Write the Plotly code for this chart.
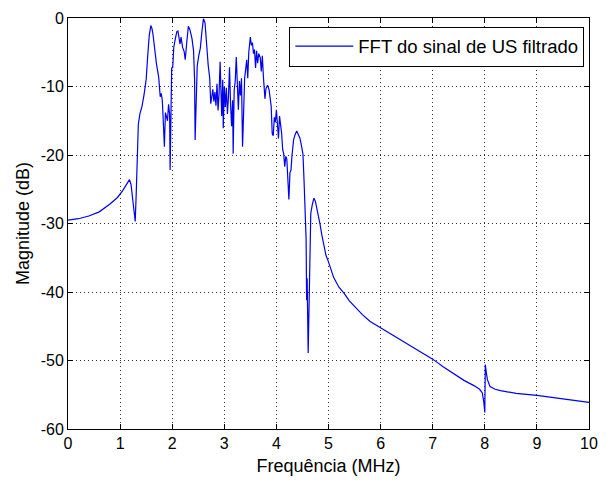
import plotly.graph_objects as go

# Magnitude spectrum of the filtered ultrasound signal (frequency in MHz, magnitude in dB)
freq_mhz = [
    0.00, 0.20, 0.40, 0.60, 0.80, 0.95, 1.05, 1.12, 1.18, 1.21, 1.24, 1.27, 1.29, 1.31,
    1.33, 1.35, 1.38, 1.42, 1.46, 1.50, 1.53, 1.56, 1.59, 1.61, 1.63, 1.66, 1.70, 1.74,
    1.77, 1.79, 1.81, 1.83, 1.85, 1.87, 1.89, 1.91, 1.93, 1.95, 1.96, 1.98, 1.99, 2.01,
    2.03, 2.06, 2.09, 2.11, 2.13, 2.15, 2.17, 2.20, 2.23, 2.25, 2.28, 2.31, 2.34, 2.38,
    2.41, 2.43, 2.44, 2.46, 2.48, 2.51, 2.54, 2.57, 2.60, 2.63, 2.66, 2.69, 2.72, 2.74,
    2.76, 2.78, 2.80, 2.82, 2.84, 2.86, 2.88, 2.90, 2.92, 2.94, 2.95, 2.97, 2.98, 3.00,
    3.02, 3.04, 3.06, 3.08, 3.10, 3.12, 3.14, 3.16, 3.17, 3.19, 3.21, 3.23, 3.25, 3.27,
    3.29, 3.31, 3.33, 3.35, 3.37, 3.39, 3.41, 3.43, 3.45, 3.47, 3.50, 3.52, 3.54, 3.56,
    3.58, 3.60, 3.62, 3.64, 3.66, 3.69, 3.71, 3.73, 3.75, 3.78, 3.80, 3.83, 3.86, 3.88,
    3.90, 3.92, 3.94, 3.96, 3.98, 4.00, 4.02, 4.04, 4.06, 4.08, 4.10, 4.12, 4.14, 4.16,
    4.18, 4.20, 4.21, 4.23, 4.24, 4.26, 4.28, 4.30, 4.33, 4.36, 4.39, 4.42, 4.45, 4.48,
    4.51, 4.53, 4.55, 4.57, 4.58, 4.59, 4.61, 4.63, 4.645, 4.66, 4.69, 4.72, 4.75, 4.78,
    4.81, 4.84, 4.87, 4.90, 4.95, 5.00, 5.05, 5.10, 5.20, 5.30, 5.40, 5.54, 5.65, 5.80,
    6.00, 6.20, 6.40, 6.60, 6.80, 7.00, 7.20, 7.40, 7.60, 7.80, 7.90, 7.95, 7.98, 8.00,
    8.01, 8.03, 8.05, 8.10, 8.20, 8.30, 8.60, 9.00, 9.40, 9.80, 10.00,
]
magnitude_db = [
    -29.5, -29.3, -28.9, -28.3, -27.2, -26.2, -25.2, -24.4, -23.6, -24.3, -26.5, -28.8, -29.7, -25.5,
    -20.0, -15.5, -14.0, -12.9, -11.2, -9.0, -5.5, -2.5, -1.1, -1.5, -2.3, -4.6, -6.8, -8.6,
    -11.5, -11.0, -12.0, -15.3, -18.8, -13.8, -14.5, -15.0, -12.6, -14.0, -22.2, -9.5, -7.3, -7.2,
    -4.3, -3.0, -2.0, -1.9, -3.0, -3.8, -2.8, -4.3, -4.9, -6.1, -3.5, -1.2, -1.7, -3.0,
    -4.8, -9.0, -17.8, -9.5, -7.0, -5.5, -4.4, -2.0, -0.1, -0.7, -4.5, -6.8, -8.8, -12.5,
    -11.5, -10.4, -12.2, -10.8, -12.8, -9.6, -13.5, -11.0, -6.4, -12.0, -14.3, -9.0, -16.1, -10.0,
    -13.0, -10.2, -14.0, -11.5, -7.2, -12.5, -15.8, -12.0, -19.8, -10.5, -9.2, -5.7, -9.5, -13.4,
    -9.2, -11.3, -8.8, -18.8, -14.0, -8.8, -7.5, -6.1, -8.8, -5.0, -2.8, -4.0, -3.6, -5.2,
    -4.6, -7.3, -4.8, -6.6, -5.2, -5.8, -7.8, -5.5, -8.5, -11.8, -10.3, -9.8, -10.5, -11.5,
    -12.9, -16.9, -17.2, -14.5, -15.2, -13.4, -15.6, -17.6, -14.3, -15.5, -16.8, -19.2, -19.8, -21.7,
    -20.2, -20.6, -22.6, -23.8, -26.5, -22.6, -22.2, -20.0, -17.8, -17.0, -16.5, -17.0, -17.5, -18.6,
    -19.9, -23.6, -29.5, -32.2, -41.2, -38.0, -48.9, -40.2, -30.0, -28.5, -27.2, -26.3, -26.8, -27.8,
    -29.0, -30.2, -31.6, -32.9, -34.6, -35.6, -36.9, -37.9, -39.3, -40.2, -41.3, -42.5, -43.3, -44.3,
    -45.2, -46.2, -47.1, -48.0, -48.9, -49.8, -50.9, -51.9, -52.9, -53.7, -54.2, -54.7, -56.0, -57.6,
    -50.6, -51.8, -52.8, -53.8, -54.2, -54.4, -54.8, -55.1, -55.5, -55.9, -56.1,
]

x_ticks = list(range(0, 11))
y_ticks = [-60, -50, -40, -30, -20, -10, 0]

FONT = "Liberation Sans, Arial, sans-serif"

fig = go.Figure()
fig.add_trace(go.Scatter(
    x=freq_mhz, y=magnitude_db, mode="lines",
    line=dict(color="#0000f0", width=1.2),
    name="FFT do sinal de US filtrado",
))

axis_common = dict(
    showline=True, linecolor="black", linewidth=1, mirror="allticks",
    ticks="inside", ticklen=5, tickcolor="black", tickwidth=1,
    showgrid=True, gridcolor="#333333", gridwidth=1, griddash="1px,3px",
    zeroline=False, tickfont=dict(family=FONT, size=16, color="black"),
)

fig.update_xaxes(
    range=[0, 10], tickvals=x_ticks, ticktext=[str(v) for v in x_ticks],
    title=dict(text="Frequência (MHz)", font=dict(family=FONT, size=18, color="black"), standoff=8),
    **axis_common,
)
fig.update_yaxes(
    range=[-60, 0], tickvals=y_ticks, ticktext=[str(v) for v in y_ticks],
    title=dict(text="Magnitude (dB)", font=dict(family=FONT, size=18, color="black"), standoff=6),
    **axis_common,
)

fig.update_layout(
    width=606, height=480,
    margin=dict(l=68, r=17, t=18, b=51, autoexpand=False),
    paper_bgcolor="white", plot_bgcolor="white",
    font=dict(family=FONT, color="black"),
    showlegend=True,
    legend=dict(
        x=0.991, y=0.979, xanchor="right", yanchor="top",
        bgcolor="white", bordercolor="black", borderwidth=1,
        font=dict(family=FONT, size=18.5, color="black"),
        itemwidth=58, tracegroupgap=0,
    ),
)

fig.write_html("out.html")
